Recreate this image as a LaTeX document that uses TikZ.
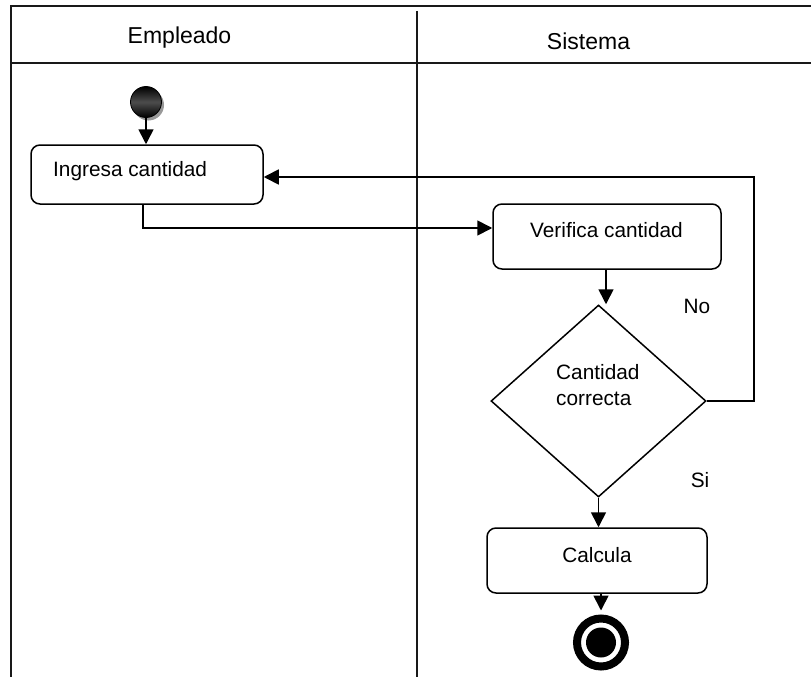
\documentclass[tikz,border=0pt]{standalone}
\usepackage{fontspec}
\setmainfont{Liberation Sans}
\usetikzlibrary{shapes.geometric,arrows.meta,shadows}
\begin{document}
\begin{tikzpicture}[x=1pt,y=-1pt,
  lane/.style={line width=1.8pt, draw=black!90},
  actbox/.style={draw=black, line width=1.5pt, rounded corners=9pt, inner sep=0pt, fill=white},
  flow/.style={line width=1.7pt, -{Triangle[length=15pt,width=15pt]}},
  txt/.style={font=\fontsize{20.8}{25}\selectfont, anchor=base, inner sep=0pt},
  hdr/.style={font=\fontsize{23}{27}\selectfont, anchor=base, inner sep=0pt}]
\useasboundingbox (0,0) rectangle (811,677);
\fill[white] (0,0) rectangle (811,677);
% swimlanes
\draw[lane] (811,6) -- (11,6) -- (11,677);
\draw[lane] (11,63) -- (811,63);
\draw[lane] (417,11) -- (417,677);
\node[hdr] (h1) at (179.5,44) {Empleado};
\node[hdr] (h2) at (588.5,49) {Sistema};
% start
\node[circle, minimum size=31pt, inner sep=0pt, draw=black, line width=0.8pt,
  top color=black, bottom color=black, middle color=gray!60!black,
  drop shadow={shadow xshift=2.5pt, shadow yshift=-3pt, fill=gray!80, opacity=1}] (start) at (146,102) {};
% activities
\node[actbox, minimum width=232pt, minimum height=59pt] (ing) at (147,174.5) {};
\node[txt, anchor=base west] (ingt) at (53,176) {Ingresa cantidad};
\node[actbox, minimum width=228pt, minimum height=65pt] (ver) at (607,236.5) {};
\node[txt] (vert) at (606.5,237) {Verifica cantidad};
\node[draw=black, line width=1.5pt, diamond, inner sep=0pt, minimum width=215pt, minimum height=192pt] (dec) at (598.5,401) {};
\node[txt, anchor=base west] (dect1) at (556,379) {Cantidad};
\node[txt, anchor=base west] (dect2) at (556,405) {correcta};
\node[actbox, minimum width=220pt, minimum height=65pt] (calc) at (597,560.5) {};
\node[txt] (calct) at (597,562) {Calcula};
% end
\node[circle, fill=white, draw=black, line width=8pt, minimum size=48pt, inner sep=0pt] (end) at (601,642.5) {};
\node[circle, fill=black, minimum size=30pt, inner sep=0pt] (endin) at (end.center) {};
% guard labels
\node[txt] (no) at (697,313) {No};
\node[txt] (si) at (700,487) {Si};
% connectors
\coordinate (loop) at (754,401);
\draw[flow] (start.south) -- (start.south |- ing.north);
\draw[flow] ([xshift=-4pt]ing.south) |- ([yshift=8.5pt]ver.west);
\draw[flow] ([xshift=-1pt]ver.south) -- ([xshift=-1pt]ver.south |- dec.north);
\draw[flow] (dec.south) -- (dec.south |- calc.north);
\draw[flow] (end.north |- calc.south) -- ([yshift=4pt]end.north);
\draw[flow] (dec.east) -- (loop) |- ([yshift=-2.5pt]ing.east);
\end{tikzpicture}
\end{document}
